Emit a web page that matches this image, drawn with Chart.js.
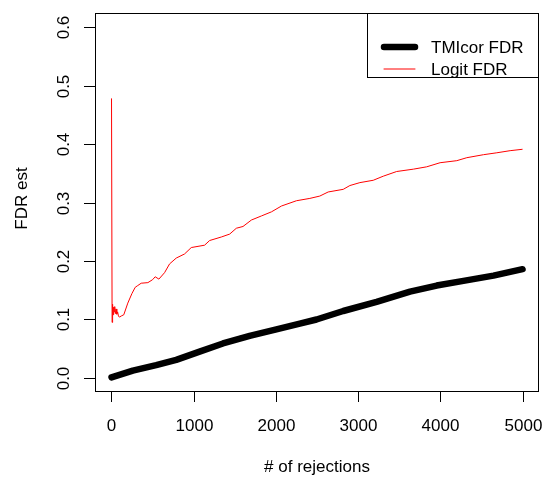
<!DOCTYPE html>
<html>
<head>
<meta charset="utf-8">
<script src="https://cdn.jsdelivr.net/npm/chart.js@4.4.1/dist/chart.umd.min.js"></script>
<style>
    body { margin: 0; background: #fff; }
    canvas { display: block; }
</style>
</head>
<body>
<canvas id="fdrChart" width="546" height="479"></canvas>
<script>
// TMIcor FDR (thick black line)
const tmiX = [1, 260, 544, 788, 1072, 1356, 1681, 2006, 2291, 2494, 2819, 3225, 3631, 3956, 4281, 4646, 5000];
const tmiY = [0.001, 0.0125, 0.022, 0.031, 0.045, 0.059, 0.072, 0.083, 0.093, 0.100, 0.1145, 0.130, 0.1476, 0.158, 0.166, 0.175, 0.186];

// Logit FDR (thin red line)
const logitX = [1, 8, 10, 14, 18, 22, 27, 33, 40, 48, 56, 65, 75, 85, 97, 120, 150, 199, 248, 289, 320, 362, 443, 500,
    532, 577, 646, 707, 788, 889, 971, 1133, 1194, 1336, 1438, 1519, 1600, 1702, 1824, 1946, 2068, 2250, 2413, 2534,
    2636, 2819, 2900, 3022, 3184, 3306, 3469, 3672, 3834, 3997, 4200, 4322, 4524, 4687, 4849, 5000];
const logitY = [0.478, 0.095, 0.126, 0.112, 0.124, 0.108, 0.121, 0.113, 0.122, 0.110, 0.118, 0.109, 0.113, 0.106, 0.104,
    0.106, 0.108, 0.128, 0.144, 0.155, 0.158, 0.162, 0.163, 0.168, 0.173, 0.169, 0.180, 0.195, 0.205, 0.212, 0.223,
    0.227, 0.235, 0.241, 0.246, 0.256, 0.259, 0.270, 0.277, 0.284, 0.294, 0.303, 0.307, 0.311, 0.318, 0.3225, 0.329,
    0.334, 0.338, 0.345, 0.353, 0.357, 0.361, 0.368, 0.3715, 0.3766, 0.3817, 0.385, 0.3886, 0.391];

// axis ticks
const xTicks = [0, 1000, 2000, 3000, 4000, 5000];
const yTicks = [0, 0.1, 0.2, 0.3, 0.4, 0.5, 0.6];
const yTickLabels = ['0.0', '0.1', '0.2', '0.3', '0.4', '0.5', '0.6'];

const FONT = '17px "Liberation Sans", Arial, sans-serif';

function toPoints(xs, ys) {
    return xs.map((x, i) => ({ x: x, y: ys[i] }));
}

// 1px frame made of filled strips
function frame(ctx, x0, y0, x1, y1) {
    ctx.fillRect(x0, y0, x1 - x0, 1);
    ctx.fillRect(x0, y1 - 1, x1 - x0, 1);
    ctx.fillRect(x0, y0, 1, y1 - y0);
    ctx.fillRect(x1 - 1, y0, 1, y1 - y0);
}

// draws the R-style box, ticks, labels and legend
const baseAxes = {
    id: 'baseAxes',
    afterDraw(chart) {
        const ctx = chart.ctx;
        const area = chart.chartArea;
        const xs = chart.scales.x;
        const ys = chart.scales.y;

        const left = Math.round(area.left);
        const right = Math.round(area.right);
        const top = Math.round(area.top);
        const bottom = Math.round(area.bottom);
        const lx0 = 367;
        const lh = 65;

        ctx.save();
        ctx.fillStyle = '#000000';
        frame(ctx, left, top, right, bottom);

        ctx.font = FONT;
        ctx.textAlign = 'center';
        ctx.textBaseline = 'middle';

        // x axis ticks
        xTicks.forEach(v => {
            const px = Math.round(xs.getPixelForValue(v));
            ctx.fillRect(px, bottom, 1, 10);
            ctx.fillText(String(v), px + 0.5, 426);
        });

        // y axis ticks (labels parallel to the axis)
        yTicks.forEach((v, i) => {
            const py = Math.round(ys.getPixelForValue(v));
            ctx.fillRect(left - 11, py, 11, 1);
            ctx.save();
            ctx.translate(64, py + 0.5);
            ctx.rotate(-Math.PI / 2);
            ctx.fillText(yTickLabels[i], 0, 0);
            ctx.restore();
        });

        // axis titles
        ctx.fillText('# of rejections', (area.left + area.right) / 2, 467);
        ctx.save();
        ctx.translate(22, (area.top + area.bottom) / 2 - 4);
        ctx.rotate(-Math.PI / 2);
        ctx.fillText('FDR est', 0, 0);
        ctx.restore();

        // legend
        ctx.fillStyle = '#ffffff';
        ctx.fillRect(lx0, top, right - lx0, lh);
        ctx.fillStyle = '#000000';
        frame(ctx, lx0, top, right, top + lh);

        const rows = [47, 69];
        chart.data.datasets.forEach((ds, i) => {
            ctx.beginPath();
            ctx.strokeStyle = ds.borderColor;
            ctx.lineWidth = ds.borderWidth;
            ctx.lineCap = 'round';
            ctx.moveTo(384, rows[i]);
            ctx.lineTo(415, rows[i]);
            ctx.stroke();
            ctx.fillStyle = '#000000';
            ctx.textAlign = 'left';
            ctx.fillText(ds.label, 431, rows[i] + 1);
        });
        ctx.restore();
    }
};

const fdrConfig = {
    type: 'line',
    data: {
        datasets: [{
            label: 'TMIcor FDR',
            data: toPoints(tmiX, tmiY),
            borderColor: '#000000',
            borderWidth: 6.5,
            borderCapStyle: 'round',
            borderJoinStyle: 'round',
            pointRadius: 0,
            tension: 0,
            fill: false
        }, {
            label: 'Logit FDR',
            data: toPoints(logitX, logitY),
            borderColor: '#ff0000',
            borderWidth: 1,
            pointRadius: 0,
            tension: 0,
            fill: false
        }]
    },
    options: {
        responsive: false,
        animation: false,
        devicePixelRatio: 1,
        layout: {
            padding: { left: 95, top: 13, right: 7, bottom: 87 }
        },
        plugins: {
            legend: { display: false },
            tooltip: { enabled: false }
        },
        scales: {
            x: { type: 'linear', min: -200, max: 5200, display: false },
            y: { type: 'linear', min: -0.024, max: 0.624, display: false }
        }
    },
    plugins: [baseAxes]
};

const fdrChart = new Chart(document.getElementById('fdrChart').getContext('2d'), fdrConfig);
</script>
</body>
</html>
